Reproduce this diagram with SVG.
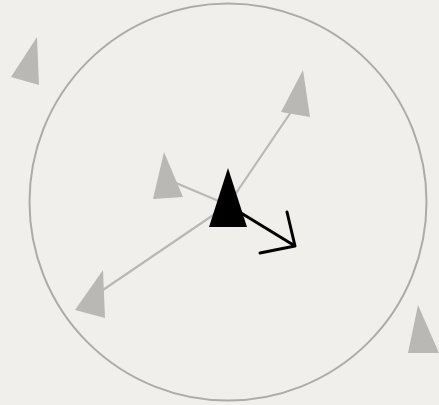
<svg xmlns="http://www.w3.org/2000/svg" width="439" height="405" viewBox="0 0 439 405">
  <style>
    .ghost { fill: #b9b8b4; stroke: none; }
    .link { stroke: #b9b8b4; stroke-width: 2.2; fill: none; stroke-linecap: round; }
    .range { fill: none; stroke: #acaba8; stroke-width: 2; }
    .self { fill: #000; }
    .heading { stroke: #000; stroke-width: 3; fill: none; stroke-linecap: round; stroke-linejoin: round; }
  </style>
  <rect x="0" y="0" width="439" height="405" fill="#f1efeb"/>
  <g id="range">
    <circle class="range" cx="228" cy="202" r="198.5"/>
  </g>
  <g id="connectors">
    <line class="link" x1="228" y1="205" x2="291" y2="112"/>
    <line class="link" x1="228" y1="205" x2="100" y2="292"/>
    <line class="link" x1="228" y1="205" x2="176" y2="183"/>
    <path class="heading" d="M228 205 L295 246 M287 212 L295 246 L260 253"/>
  </g>
  <g id="boid-top-left">
    <polygon class="ghost" points="37,37 11,77 39,85"/>
  </g>
  <g id="boid-upper-right">
    <polygon class="ghost" points="303,70 281,112 310,117"/>
  </g>
  <g id="boid-near">
    <polygon class="ghost" points="164,152 153,199 183,197"/>
  </g>
  <g id="boid-lower-left">
    <polygon class="ghost" points="103,270 75,310 105,318"/>
  </g>
  <g id="boid-lower-right">
    <polygon class="ghost" points="418,305 408,353 439,353"/>
  </g>
  <g id="boid-self">
    <polygon class="self" points="228,168 209,227 247,227"/>
  </g>
</svg>
